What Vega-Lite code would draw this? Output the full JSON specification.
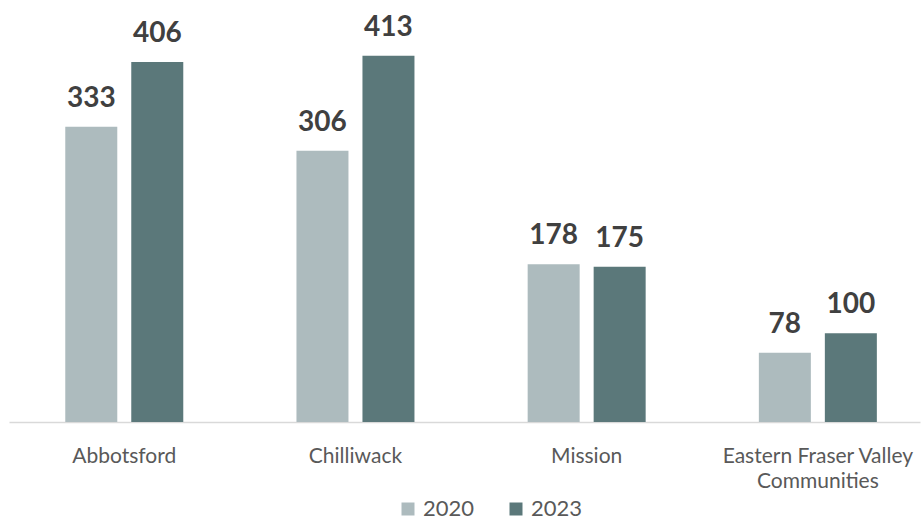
{
  "$schema": "https://vega.github.io/schema/vega-lite/v6.json",
  "width": 911,
  "height": 399,
  "autosize": "none",
  "padding": {"left": 9, "top": 23, "right": 2, "bottom": 99},
  "background": "white",
  "config": {
    "view": {"stroke": null},
    "font": "Lato"
  },
  "data": {
    "values": [
      {"city": "Abbotsford", "year": "2020", "value": 333},
      {"city": "Abbotsford", "year": "2023", "value": 406},
      {"city": "Chilliwack", "year": "2020", "value": 306},
      {"city": "Chilliwack", "year": "2023", "value": 413},
      {"city": "Mission", "year": "2020", "value": 178},
      {"city": "Mission", "year": "2023", "value": 175},
      {"city": "Eastern Fraser Valley Communities", "year": "2020", "value": 78},
      {"city": "Eastern Fraser Valley Communities", "year": "2023", "value": 100}
    ]
  },
  "encoding": {
    "x": {
      "field": "city",
      "type": "nominal",
      "sort": null,
      "scale": {"paddingInner": 0.4896, "paddingOuter": 0.215, "align": 0.566},
      "axis": {
        "title": null,
        "labelAngle": 0,
        "ticks": false,
        "domainColor": "#d9d9d9",
        "domainWidth": 1.5,
        "labelFont": "Lato",
        "labelFontSize": 21,
        "labelColor": "#595959",
        "labelPadding": 23,
        "labelLineHeight": 25,
        "labelLimit": 400,
        "labelExpr": "datum.label == 'Eastern Fraser Valley Communities' ? ['Eastern Fraser Valley', 'Communities'] : datum.label"
      }
    },
    "xOffset": {"field": "year", "type": "nominal", "scale": {"paddingInner": 0.212}},
    "y": {
      "field": "value",
      "type": "quantitative",
      "scale": {"domain": [0, 450]},
      "axis": null
    }
  },
  "layer": [
    {
      "mark": {"type": "bar"},
      "encoding": {
        "color": {
          "field": "year",
          "type": "nominal",
          "scale": {"domain": ["2020", "2023"], "range": ["#adbbbe", "#5b787a"]},
          "legend": {
            "title": null,
            "orient": "none",
            "direction": "horizontal",
            "legendX": 388,
            "legendY": 475,
            "symbolType": "square",
            "symbolSize": 169,
            "symbolStrokeWidth": 0,
            "labelFont": "Lato",
            "labelFontSize": 22,
            "labelColor": "#595959",
            "labelOffset": 4,
            "columnPadding": 30
          }
        }
      }
    },
    {
      "mark": {
        "type": "text",
        "dy": -20,
        "baseline": "alphabetic",
        "align": "center",
        "font": "Lato",
        "fontSize": 28,
        "fontWeight": "bold",
        "color": "#404040"
      },
      "encoding": {
        "text": {"field": "value", "type": "quantitative"}
      }
    }
  ]
}
